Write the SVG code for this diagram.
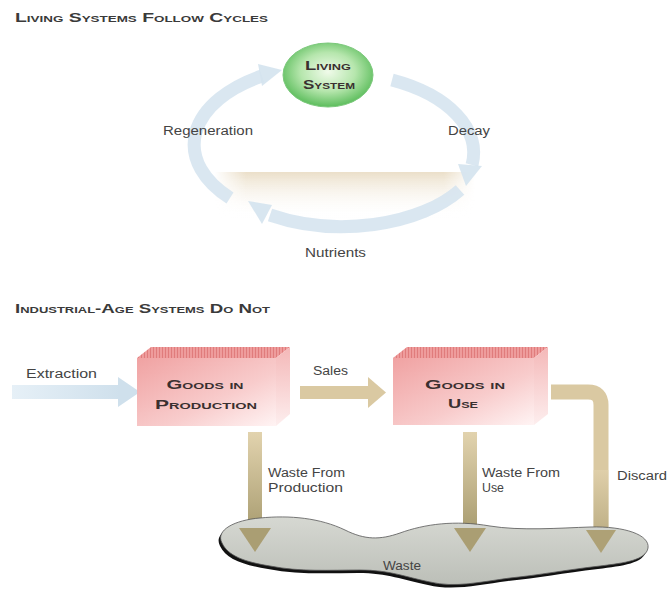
<svg xmlns="http://www.w3.org/2000/svg" width="668" height="590" viewBox="0 0 668 590">
<defs>
<style>
.h{font-family:"Liberation Sans","DejaVu Sans",sans-serif;font-variant:small-caps;font-size:13px;fill:#3a3a3a;font-weight:bold}
.lb{font-family:"Liberation Sans","DejaVu Sans",sans-serif;font-size:12.5px;fill:#444}
.bx{font-family:"Liberation Sans","DejaVu Sans",sans-serif;font-variant:small-caps;font-size:13px;fill:#3a3030;font-weight:bold;text-anchor:middle}
.ring{fill:none;stroke:#d4e3ee;stroke-width:13;opacity:0.85}
.tan{fill:#dac9a2}
</style>
<radialGradient id="gEll" cx="0.5" cy="0.45" r="0.55">
<stop offset="0" stop-color="#f0fbea"/>
<stop offset="0.55" stop-color="#b6e6ad"/>
<stop offset="1" stop-color="#5cbd5c"/>
</radialGradient>
<linearGradient id="gBand" x1="0" y1="0" x2="0" y2="1">
<stop offset="0" stop-color="#ebdfc9"/>
<stop offset="1" stop-color="#ffffff" stop-opacity="0"/>
</linearGradient>
<linearGradient id="gBandH" x1="0" y1="0" x2="1" y2="0">
<stop offset="0" stop-color="#fff" stop-opacity="0"/>
<stop offset="0.12" stop-color="#fff"/>
<stop offset="0.88" stop-color="#fff"/>
<stop offset="1" stop-color="#fff" stop-opacity="0"/>
</linearGradient>
<mask id="mBand"><rect x="215" y="170" width="260" height="50" fill="url(#gBandH)"/></mask>
<linearGradient id="gFront" x1="0" y1="0" x2="1" y2="1">
<stop offset="0" stop-color="#f0a2a2"/>
<stop offset="0.6" stop-color="#f8cccc"/>
<stop offset="1" stop-color="#fff4f4"/>
</linearGradient>
<linearGradient id="gSide" x1="0" y1="0" x2="0" y2="1">
<stop offset="0" stop-color="#f4b8b8"/>
<stop offset="1" stop-color="#fdeeee"/>
</linearGradient>
<pattern id="pTop" width="3" height="12" patternUnits="userSpaceOnUse">
<rect width="3" height="12" fill="#ee9c9c"/>
<rect width="1" height="12" fill="#e07c7c"/>
</pattern>
<linearGradient id="gDown" x1="0" y1="0" x2="0" y2="1">
<stop offset="0" stop-color="#e2d3ae"/>
<stop offset="1" stop-color="#a89c70"/>
</linearGradient>
<linearGradient id="gWaste" x1="0" y1="0" x2="0" y2="1">
<stop offset="0" stop-color="#d6d8d2"/>
<stop offset="1" stop-color="#bcbfb8"/>
</linearGradient>
<linearGradient id="gExt" x1="0" y1="0" x2="1" y2="0">
<stop offset="0" stop-color="#e6f0f7"/>
<stop offset="1" stop-color="#cfe0ec"/>
</linearGradient>
</defs>
<rect width="668" height="590" fill="#ffffff"/>

<text class="h" x="15" y="22" textLength="253" lengthAdjust="spacingAndGlyphs">Living Systems Follow Cycles</text>
<text class="h" x="15" y="313" textLength="255" lengthAdjust="spacingAndGlyphs">Industrial-Age Systems Do Not</text>

<g id="soil">
<rect x="215" y="172" width="260" height="46" fill="url(#gBand)" mask="url(#mBand)"/>
</g>

<g id="connectors">
<g id="regeneration">
<path class="ring" d="M 230,198 A 140 80 0 0 1 262,76"/>
<polygon points="282,70 258,64 262,86" fill="#d4e3ee" opacity="0.9"/>
</g>
<g id="decay">
<path class="ring" d="M 392,80 A 140 80 0 0 1 472,165"/>
<polygon points="466,186 458,164 482,166" fill="#d4e3ee" opacity="0.9"/>
</g>
<g id="nutrients">
<path class="ring" d="M 460,190 A 140 80 0 0 1 270,215"/>
<polygon points="248,201 272,205 262,224" fill="#d4e3ee" opacity="0.9"/>
</g>
<g id="extraction">
<rect x="12" y="385" width="108" height="14" fill="url(#gExt)"/>
<polygon points="118,377 140,392 118,407" fill="#cfe0ec"/>
</g>
<g id="sales">
<rect x="300" y="386" width="70" height="13" class="tan"/>
<polygon points="368,377 386,392.5 368,408" class="tan"/>
</g>
<g id="discard">
<path d="M 551,392 H 588 Q 601,392 601,405 V 536" fill="none" stroke="#dac9a2" stroke-width="15"/>
<rect x="593.5" y="470" width="15" height="66" fill="url(#gDown)" opacity="0.6"/>
</g>
<g id="wasteProd">
<rect x="248" y="432" width="14" height="100" fill="url(#gDown)"/>
</g>
<g id="wasteUse">
<rect x="463" y="432" width="14" height="100" fill="url(#gDown)"/>
</g>
</g>

<g id="living-system">
<ellipse cx="328" cy="75" rx="45" ry="32" fill="url(#gEll)" stroke="#7bc87b" stroke-width="1"/>
<text class="bx" x="328" y="70" textLength="46" lengthAdjust="spacingAndGlyphs">Living</text>
<text class="bx" x="329" y="89" textLength="52" lengthAdjust="spacingAndGlyphs">System</text>
</g>

<g id="goods-production">
<polygon points="137,358 151,347 290,347 276,358" fill="url(#pTop)"/>
<polygon points="276,358 290,347 290,414 276,426" fill="url(#gSide)"/>
<rect x="137" y="358" width="139" height="68" fill="url(#gFront)"/>
<text class="bx" x="205" y="389" textLength="77" lengthAdjust="spacingAndGlyphs">Goods in</text>
<text class="bx" x="206" y="409" textLength="102" lengthAdjust="spacingAndGlyphs">Production</text>
</g>

<g id="goods-use">
<polygon points="393,358 407,347 548,347 534,358" fill="url(#pTop)"/>
<polygon points="534,358 548,347 548,414 534,425" fill="url(#gSide)"/>
<rect x="393" y="358" width="141" height="67" fill="url(#gFront)"/>
<text class="bx" x="465" y="389" textLength="80" lengthAdjust="spacingAndGlyphs">Goods in</text>
<text class="bx" x="463" y="408" textLength="30" lengthAdjust="spacingAndGlyphs">Use</text>
</g>

<g id="waste">
<path transform="translate(-2,3)" fill="#111" d="M 222,543 C 215,530 235,520 260,518 C 290,515 320,518 345,530 C 365,540 380,540 400,533 C 425,524 455,520 490,526 C 520,531 560,528 590,527 C 625,526 650,535 648,548 C 646,560 625,563 600,566 C 565,570 540,575 510,578 C 480,582 455,588 430,582 C 405,577 390,570 360,570 C 330,570 300,572 270,566 C 245,562 228,556 222,543 Z"/>
<path fill="url(#gWaste)" stroke="#555" stroke-width="0.8" d="M 222,543 C 215,530 235,520 260,518 C 290,515 320,518 345,530 C 365,540 380,540 400,533 C 425,524 455,520 490,526 C 520,531 560,528 590,527 C 625,526 650,535 648,548 C 646,560 625,563 600,566 C 565,570 540,575 510,578 C 480,582 455,588 430,582 C 405,577 390,570 360,570 C 330,570 300,572 270,566 C 245,562 228,556 222,543 Z"/>
<text class="lb" x="383" y="570" textLength="38" lengthAdjust="spacingAndGlyphs">Waste</text>
</g>

<g id="waste-arrowheads">
<polygon points="239,528 271,528 255,552" fill="#aa9e73"/>
<polygon points="454,528 486,528 470,552" fill="#aa9e73"/>
<polygon points="586,530 616,530 601,553" fill="#aea176"/>
</g>

<g id="labels">
<text class="lb" x="163" y="135" textLength="90" lengthAdjust="spacingAndGlyphs">Regeneration</text>
<text class="lb" x="448" y="135" textLength="42" lengthAdjust="spacingAndGlyphs">Decay</text>
<text class="lb" x="305" y="257" textLength="61" lengthAdjust="spacingAndGlyphs">Nutrients</text>
<text class="lb" x="26" y="378" textLength="71" lengthAdjust="spacingAndGlyphs">Extraction</text>
<text class="lb" x="313" y="375" textLength="35" lengthAdjust="spacingAndGlyphs">Sales</text>
<text class="lb" x="268" y="477" textLength="77" lengthAdjust="spacingAndGlyphs">Waste From</text>
<text class="lb" x="268" y="492" textLength="75" lengthAdjust="spacingAndGlyphs">Production</text>
<text class="lb" x="482" y="477" textLength="78" lengthAdjust="spacingAndGlyphs">Waste From</text>
<text class="lb" x="482" y="492" textLength="22" lengthAdjust="spacingAndGlyphs">Use</text>
<text class="lb" x="617" y="480" textLength="50" lengthAdjust="spacingAndGlyphs">Discard</text>
</g>
</svg>
